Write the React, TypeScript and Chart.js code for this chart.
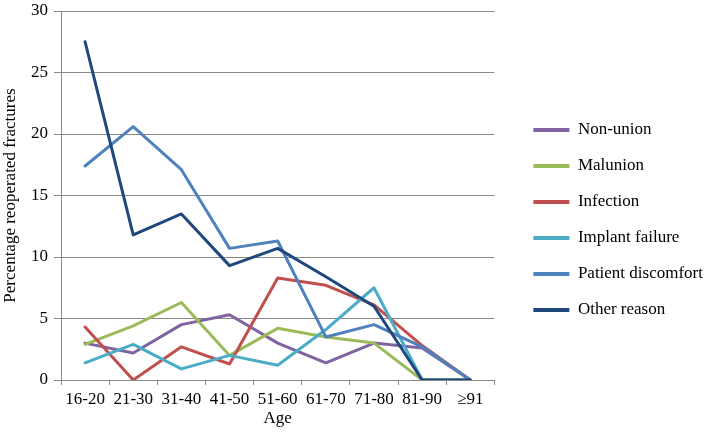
import React, { useEffect, useRef } from "react";
import { Chart, registerables } from "chart.js";

Chart.register(...registerables);

const categories = ["16-20", "21-30", "31-40", "41-50", "51-60", "61-70", "71-80", "81-90", "≥91"];
const nonUnion = [3.0, 2.2, 4.5, 5.3, 3.0, 1.4, 3.0, 2.6, 0];
const malunion = [2.9, 4.4, 6.3, 2.0, 4.2, 3.5, 3.0, 0, 0];
const infection = [4.3, 0, 2.7, 1.3, 8.3, 7.7, 6.1, 2.8, 0];
const implantFailure = [1.4, 2.9, 0.9, 2.0, 1.2, 4.1, 7.5, 0, 0];
const patientDiscomfort = [17.4, 20.6, 17.1, 10.7, 11.3, 3.5, 4.5, 2.7, 0];
const otherReason = [27.5, 11.8, 13.5, 9.3, 10.7, 8.4, 6.0, 0, 0];

const seriesNames = ["Non-union", "Malunion", "Infection", "Implant failure", "Patient discomfort", "Other reason"];
const seriesValues = [nonUnion, malunion, infection, implantFailure, patientDiscomfort, otherReason];
const seriesColors = ["#8064A2", "#9BBB59", "#C0504D", "#4BACC6", "#4F81BD", "#1F497D"];

const yTicks = [0, 5, 10, 15, 20, 25, 30];

const FONT = "'Liberation Serif', 'Times New Roman', serif";

export default function App() {
  const ref = useRef<HTMLCanvasElement>(null);
  useEffect(() => {
    const canvas = ref.current;
    if (!canvas) return;
    const n = seriesNames.length;
    const chart = new Chart(canvas, {
      type: "line",
      data: {
        labels: categories,
        datasets: seriesNames.map((name, i) => ({
          label: name,
          data: seriesValues[i],
          borderColor: seriesColors[i],
          backgroundColor: seriesColors[i],
          borderWidth: 3,
          pointRadius: 0,
          pointHoverRadius: 0,
          tension: 0,
          fill: false,
          order: n - 1 - i,
          borderJoinStyle: "round" as const,
          borderCapStyle: "round" as const,
        })),
      },
      options: {
        responsive: false,
        animation: false,
        layout: { padding: { top: 7, left: 0, right: -4, bottom: 0 } },
        plugins: {
          tooltip: { enabled: false },
          legend: {
            position: "right",
            align: "center",
            maxWidth: 300,
            labels: {
              boxWidth: 36,
              boxHeight: 4,
              padding: 19,
              color: "#000",
              font: { family: FONT, size: 17 },
              sort: (a: any, b: any) => a.datasetIndex - b.datasetIndex,
              generateLabels: (c: any) =>
                c.data.datasets.map((ds: any, i: number) => ({
                  text: ds.label,
                  fillStyle: ds.borderColor,
                  strokeStyle: ds.borderColor,
                  lineWidth: 0,
                  hidden: false,
                  datasetIndex: i,
                })),
            },
          },
        },
        scales: {
          x: {
            type: "category",
            offset: true,
            grid: {
              offset: true,
              drawOnChartArea: false,
              drawTicks: true,
              tickLength: 5,
              color: "#888",
            },
            border: { color: "#888", width: 1 },
            ticks: {
              color: "#000",
              font: { family: FONT, size: 17, lineHeight: 1.0 },
              padding: 6,
              maxRotation: 0,
              autoSkip: false,
            },
            title: {
              display: true,
              text: "Age",
              color: "#000",
              font: { family: FONT, size: 17, lineHeight: 1.0 },
              padding: { top: -4, bottom: 6 },
            },
          },
          y: {
            type: "linear",
            min: 0,
            max: 30,
            afterBuildTicks: (scale: any) => {
              scale.ticks = yTicks.map((v) => ({ value: v }));
            },
            grid: {
              color: "#888",
              lineWidth: 1,
              drawTicks: true,
              tickLength: 7,
            },
            border: { color: "#888", width: 1 },
            ticks: {
              color: "#000",
              font: { family: FONT, size: 17, lineHeight: 10 / 17 },
              padding: 6,
            },
            title: {
              display: true,
              text: "Percentage reoperated fractures",
              color: "#000",
              font: { family: FONT, size: 17, lineHeight: 1.0 },
              padding: { top: 2.5, bottom: 5.5 },
            },
          },
          yR: {
            type: "linear",
            position: "right",
            display: true,
            min: 0,
            max: 30,
            grid: { display: false, drawTicks: false },
            border: { display: false },
            ticks: { display: false },
            afterFit: (scale: any) => {
              scale.width = 20;
            },
          },
        },
      },
    } as any);
    return () => chart.destroy();
  }, []);
  return (
    <div style={{ position: "absolute", left: 0, top: 0, width: 709, height: 433, background: "#fff" }}>
      <canvas ref={ref} width={709} height={433} />
    </div>
  );
}
